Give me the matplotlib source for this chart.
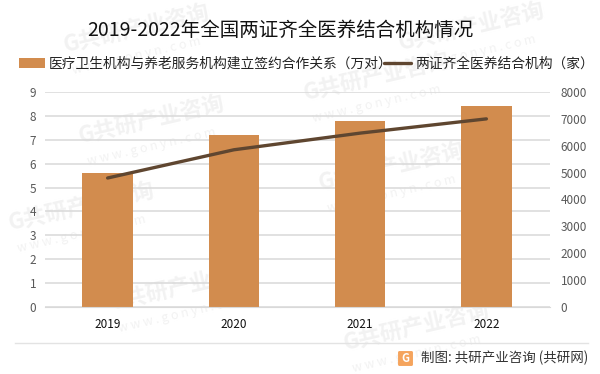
import matplotlib
matplotlib.use('Agg')
from matplotlib import pyplot as plt
from matplotlib.patches import FancyBboxPatch

plt.rcParams['font.family'] = ['Noto Sans CJK SC', 'DejaVu Sans']

years = ['2019', '2020', '2021', '2022']
sign_pairs = [5.6, 7.2, 7.8, 8.4]
institutions = [4800, 5850, 6470, 7000]
left_ticks = [0, 1, 2, 3, 4, 5, 6, 7, 8, 9]
right_ticks = [0, 1000, 2000, 3000, 4000, 5000, 6000, 7000, 8000]

W, H = 600, 374
fig = plt.figure(figsize=(6, 3.74), dpi=100)

# watermark first so it sits under the chart
wm_names = [(65, 52), (305, 100), (80, 143), (320, 190), (111, 310), (345, 350), (400, 50), (10, 230)]
for x, y in wm_names:
    fig.text(x / W, 1 - y / H, 'G共研产业咨询', fontsize=16, fontweight='bold', color='#f2f2f2',
             rotation=13, rotation_mode='anchor', zorder=-1)
    fig.text((x + 8) / W, 1 - (y + 22) / H, 'w w w . g o n y n . c o m', fontsize=9, color='#f2f2f2',
             rotation=13, rotation_mode='anchor', zorder=-1)

ax = fig.add_axes([44.5 / W, 1 - 307 / H, 505 / W, 215 / H])
ax.patch.set_alpha(0)
ax2 = ax.twinx()
ax2.patch.set_alpha(0)

x = range(len(years))
bars = ax.bar(x, sign_pairs, width=0.4, color='#d28c4e', zorder=2,
              label='医疗卫生机构与养老服务机构建立签约合作关系（万对）')
line, = ax2.plot(x, institutions, color='#5f4630', lw=2.4, solid_capstyle='round',
                 label='两证齐全医养结合机构（家）')

ax.set_xlim(-0.5, 3.5)
ax.set_ylim(0, 9)
ax2.set_ylim(0, 8000)
ax.set_xticks(list(x), years)
ax.set_yticks(left_ticks)
ax2.set_yticks(right_ticks)
ax.grid(axis='y', color='#d9d9d9', lw=1.1, zorder=1)
ax.set_axisbelow(True)

for a in (ax, ax2):
    for s in a.spines.values():
        s.set_visible(False)
ax.spines['bottom'].set_visible(True)
ax.spines['bottom'].set_color('#d9d9d9')
ax.tick_params(axis='x', length=0, pad=8, labelsize=8.5, labelcolor='#111111')
ax.tick_params(axis='y', length=0, pad=6, labelsize=8.5, labelcolor='#595959')
ax2.tick_params(axis='y', length=0, pad=8, labelsize=8.5, labelcolor='#595959')

fig.text(280 / W, 1 - 30 / H, '2019-2022年全国两证齐全医养结合机构情况', fontsize=14,
         color='#111111', ha='center', va='center')

fig.legend([bars, line], [bars.get_label(), line.get_label()], ncol=2, frameon=False,
           loc='center', bbox_to_anchor=(306 / W, 1 - 64 / H), fontsize=9.9,
           handlelength=1.95, handletextpad=0.25, columnspacing=-0.6, labelcolor='#222222',
           borderpad=0, borderaxespad=0)

# footer
fig.add_artist(plt.Line2D([15 / W, 588 / W], [1 - 343 / H, 1 - 343 / H], color='#e3e3e3', lw=1))
logo_ax = fig.add_axes([398 / W, 1 - 366 / H, 15 / W, 15 / H])
logo_ax.axis('off')
logo_ax.add_patch(FancyBboxPatch((0.1, 0.1), 0.8, 0.8, boxstyle='round,pad=0.05', color='#f5a45d'))
logo_ax.text(0.5, 0.47, 'G', color='white', fontsize=8, fontweight='bold', ha='center', va='center')
logo_ax.set_xlim(0, 1)
logo_ax.set_ylim(0, 1)
fig.text(421 / W, 1 - 358 / H, '制图: 共研产业咨询 (共研网)', fontsize=9.7, color='#333333', va='center')

fig.savefig('out.png', dpi=100)
